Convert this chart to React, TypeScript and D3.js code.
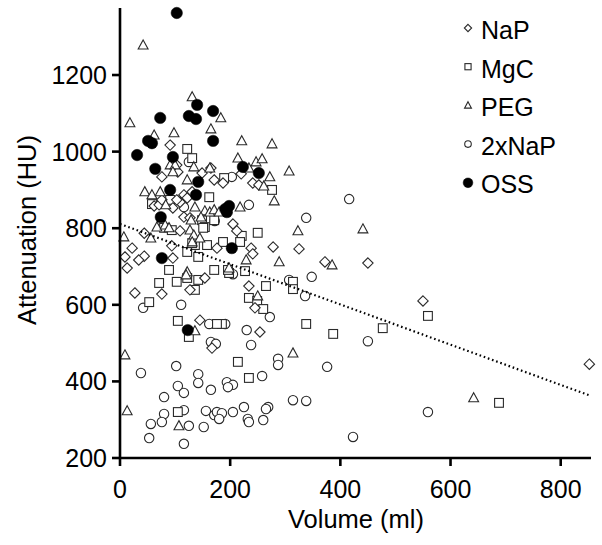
import React from "react";
import * as d3 from "d3";

const W = 602;
const H = 545;

const xTicks = [0, 200, 400, 600, 800];
const yTicks = [200, 400, 600, 800, 1000, 1200];

const seriesNames = ["NaP", "MgC", "PEG", "2xNaP", "OSS"];

const napData: [number, number][] = [
  [91, 1017], [103, 965], [105, 947], [76, 934], [149, 944], [165, 957], [171, 926],
  [116, 887], [131, 895], [62, 858], [71, 861], [96, 853], [116, 829], [127, 827],
  [109, 793], [44, 787], [22, 748], [9, 725], [44, 727], [34, 717], [13, 696],
  [94, 754], [96, 722], [176, 748], [154, 670], [127, 639], [27, 631], [76, 628],
  [220, 942], [187, 918], [241, 918], [252, 913], [205, 811], [212, 793], [238, 748],
  [241, 733], [278, 751], [325, 746], [372, 712], [234, 649], [245, 592], [450, 709],
  [550, 610], [852, 445], [145, 560], [167, 487], [254, 529], [109, 868], [122, 879],
  [76, 874], [103, 874],
];

const mgcData: [number, number][] = [
  [122, 1007], [131, 983], [189, 931], [162, 881], [91, 874], [80, 801], [94, 795],
  [58, 863], [149, 821], [154, 803], [171, 821], [151, 801], [158, 756], [136, 756],
  [131, 761], [122, 738], [142, 725], [89, 691], [171, 691], [198, 683], [71, 657],
  [103, 660], [122, 670], [142, 665], [136, 639], [53, 607], [276, 900], [221, 780],
  [250, 788], [187, 764], [218, 764], [196, 691], [227, 688], [314, 660], [314, 641],
  [265, 649], [234, 618], [249, 610], [260, 589], [185, 550], [338, 550], [214, 451],
  [234, 409], [387, 524], [477, 539], [559, 571], [688, 344], [105, 558], [176, 550],
  [125, 516], [105, 320],
];

const pegData: [number, number][] = [
  [42, 1278], [131, 1143], [183, 1088], [18, 1075], [165, 1059], [98, 1049], [62, 1043],
  [221, 1028], [276, 1020], [214, 983], [247, 973], [258, 981], [234, 957], [91, 965],
  [100, 965], [96, 947], [134, 960], [122, 926], [163, 957], [272, 934], [307, 949],
  [261, 910], [280, 871], [218, 855], [45, 895], [58, 887], [73, 895], [83, 861],
  [136, 855], [154, 845], [163, 842], [171, 848], [180, 842], [129, 821], [67, 803],
  [82, 808], [89, 801], [127, 795], [134, 782], [145, 774], [131, 764], [7, 777],
  [56, 774], [122, 686], [120, 678], [323, 793], [229, 717], [289, 712], [385, 704],
  [441, 798], [250, 623], [198, 696], [136, 532], [9, 469], [13, 323], [107, 284],
  [314, 474], [642, 357], [147, 829],
];

const nap2Data: [number, number][] = [
  [125, 973], [203, 934], [116, 855], [172, 819], [234, 861], [338, 827], [416, 876],
  [205, 680], [307, 665], [348, 673], [336, 623], [272, 568], [42, 592], [111, 600],
  [162, 550], [191, 550], [165, 503], [174, 498], [230, 534], [238, 495], [450, 505],
  [376, 438], [287, 459], [287, 443], [258, 414], [102, 440], [38, 422], [142, 419],
  [142, 396], [105, 388], [116, 370], [165, 378], [194, 398], [205, 391], [196, 385],
  [80, 359], [80, 315], [76, 294], [56, 289], [53, 252], [116, 325], [156, 323],
  [171, 312], [176, 320], [185, 317], [180, 302], [125, 284], [152, 281], [116, 237],
  [205, 320], [225, 333], [269, 333], [265, 328], [232, 302], [234, 294], [260, 299],
  [314, 351], [338, 349], [559, 320], [423, 255],
];

const ossData: [number, number][] = [
  [103, 1362], [140, 1122], [169, 1106], [73, 1088], [125, 1093], [138, 1085],
  [51, 1028], [58, 1022], [169, 1028], [31, 991], [96, 986], [64, 955], [142, 921],
  [91, 900], [138, 887], [74, 829], [191, 850], [198, 858], [194, 842], [223, 960],
  [252, 944], [203, 748], [76, 722], [123, 534],
];

const trendLine: [number, number][] = [
  [0, 811],
  [855, 362],
];

const x = d3.scaleLinear().domain([0, 855]).range([120, 591]);
const y = d3.scaleLinear().domain([200, 1375]).range([458, 8]);

const STROKE = "#2a2a2a";
const FONT = "'Liberation Sans', Arial, Helvetica, sans-serif";

function Marker({ kind, cx, cy, s = 1 }: { kind: string; cx: number; cy: number; s?: number }) {
  if (kind === "NaP") {
    const r = 5.2 * s;
    return (
      <path
        d={`M${cx},${cy - r}L${cx + r},${cy}L${cx},${cy + r}L${cx - r},${cy}Z`}
        fill="white"
        stroke={STROKE}
        strokeWidth={1.1}
      />
    );
  }
  if (kind === "MgC") {
    const h = 4.4 * s;
    return (
      <rect x={cx - h} y={cy - h} width={2 * h} height={2 * h} fill="white" stroke={STROKE} strokeWidth={1.1} />
    );
  }
  if (kind === "PEG") {
    const r = 5.2 * s;
    return (
      <path
        d={`M${cx},${cy - r}L${cx + r * 0.95},${cy + r * 0.75}L${cx - r * 0.95},${cy + r * 0.75}Z`}
        fill="white"
        stroke={STROKE}
        strokeWidth={1.1}
      />
    );
  }
  if (kind === "2xNaP") {
    return <circle cx={cx} cy={cy} r={4.7 * s} fill="white" stroke={STROKE} strokeWidth={1.1} />;
  }
  return <circle cx={cx} cy={cy} r={5.7 * s} fill="black" stroke="black" strokeWidth={0.5} />;
}

export default function App() {
  const series: [string, [number, number][]][] = [
    ["2xNaP", nap2Data],
    ["MgC", mgcData],
    ["NaP", napData],
    ["PEG", pegData],
    ["OSS", ossData],
  ];
  const line = d3
    .line<[number, number]>()
    .x((d) => x(d[0]))
    .y((d) => y(d[1]));

  return (
    <svg
      width={W}
      height={H}
      style={{ position: "absolute", left: 0, top: 0, display: "block", background: "white" }}
      fontFamily={FONT}
    >
      <rect x={0} y={0} width={W} height={H} fill="white" />
      {series.map(([name, data]) => (
        <g key={name}>
          {data.map((d, i) => (
            <Marker key={i} kind={name} cx={x(d[0])} cy={y(d[1])} />
          ))}
        </g>
      ))}
      <path d={line(trendLine) || ""} fill="none" stroke="black" strokeWidth={2.2} strokeDasharray="1.6 2.8" />

      {/* axes */}
      <line x1={x(0)} x2={x(0)} y1={y(200) + 1} y2={y(1375)} stroke="black" strokeWidth={2.6} />
      <line x1={x(0) - 1} x2={x(855)} y1={y(200)} y2={y(200)} stroke="black" strokeWidth={2.6} />
      {yTicks.map((t) => (
        <g key={t}>
          <line x1={x(0) - 8} x2={x(0)} y1={y(t)} y2={y(t)} stroke="black" strokeWidth={2.6} />
          <text x={107} y={y(t)} dy="0.36em" textAnchor="end" fontSize={25} fill="black">
            {t}
          </text>
        </g>
      ))}
      {xTicks.map((t) => (
        <g key={t}>
          <line x1={x(t)} x2={x(t)} y1={y(200)} y2={y(200) + 8} stroke="black" strokeWidth={2.6} />
          <text x={x(t)} y={498} textAnchor="middle" fontSize={25} fill="black">
            {t}
          </text>
        </g>
      ))}
      <text x={356} y={528} textAnchor="middle" fontSize={25.5} fill="black">
        Volume (ml)
      </text>
      <text
        transform={`translate(36,230) rotate(-90)`}
        textAnchor="middle"
        fontSize={25.5}
        fill="black"
      >
        Attenuation (HU)
      </text>

      {/* legend */}
      {seriesNames.map((n, i) => (
        <g key={n}>
          <Marker kind={n} cx={468} cy={28 + i * 38.7} s={n === "OSS" ? 0.85 : 0.7} />
          <text x={481} y={30 + i * 38.5} dy="0.36em" fontSize={25} fill="black">
            {n}
          </text>
        </g>
      ))}
    </svg>
  );
}
